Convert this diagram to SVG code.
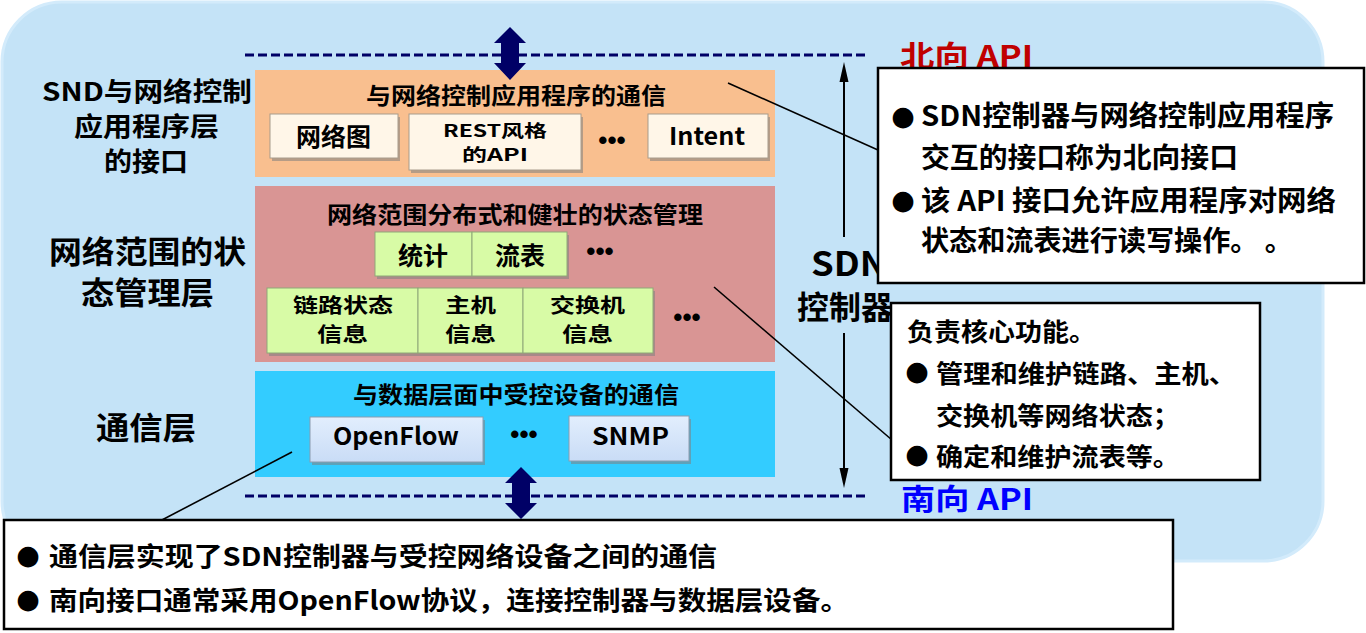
<svg xmlns="http://www.w3.org/2000/svg" width="1366" height="633" viewBox="0 0 1366 633">
<defs>
<style>
.t{font-family:"Noto Sans CJK SC","Noto Sans",sans-serif;font-weight:bold;fill:#000}
.dots{font-family:"Liberation Sans",Arial,sans-serif;font-weight:bold;font-size:26px;fill:#000;text-anchor:middle}
.bul{font-family:"DejaVu Sans",sans-serif;font-size:27px;fill:#000;text-anchor:middle}
.dash{stroke:#000066;stroke-width:3;stroke-dasharray:9 4;fill:none}
.conn{stroke:#000;stroke-width:1.6;fill:none}
.callout{fill:#fff;stroke:#000;stroke-width:2.5}
.shadow{fill:#7f7f7f;opacity:0.55}
.cream{fill:#FFF6E8;stroke:#A89C8C;stroke-width:1}
.green{fill:#D8FBA6;stroke:#8FA878;stroke-width:1}
.lblue{fill:url(#gb);stroke:#8C9CB0;stroke-width:1}
</style>
<linearGradient id="gb" x1="0" y1="0" x2="0" y2="1">
<stop offset="0" stop-color="#E2EEFD"/>
<stop offset="1" stop-color="#C9DCF6"/>
</linearGradient>
</defs>

<g id="background">
<rect x="2" y="2" width="1321" height="559" rx="60" ry="60" fill="#C4E3F7" stroke="#D3EBFB" stroke-width="3"/>
</g>

<g id="layer-labels">
<text class="t" x="42" y="101" font-size="26" textLength="210" lengthAdjust="spacingAndGlyphs">SND与网络控制</text>
<text class="t" x="74" y="136" font-size="26" textLength="145" lengthAdjust="spacingAndGlyphs">应用程序层</text>
<text class="t" x="104" y="171" font-size="26" textLength="84" lengthAdjust="spacingAndGlyphs">的接口</text>
<text class="t" x="49" y="263" font-size="31" textLength="197" lengthAdjust="spacingAndGlyphs">网络范围的状</text>
<text class="t" x="81" y="304" font-size="31" textLength="133" lengthAdjust="spacingAndGlyphs">态管理层</text>
<text class="t" x="96" y="439" font-size="31" textLength="100" lengthAdjust="spacingAndGlyphs">通信层</text>
</g>

<g id="app-layer">
<rect x="255" y="70" width="520" height="107" fill="#F9BF8F"/>
<text class="t" x="366" y="104" font-size="23" textLength="300" lengthAdjust="spacingAndGlyphs">与网络控制应用程序的通信</text>
<g id="node-netgraph">
<rect class="shadow" x="272" y="117" width="128" height="44"/>
<rect class="cream" x="270" y="114" width="128" height="44"/>
<text class="t" x="296" y="146" font-size="25" textLength="75" lengthAdjust="spacingAndGlyphs">网络图</text>
</g>
<g id="node-rest">
<rect class="shadow" x="411" y="117" width="172" height="56"/>
<rect class="cream" x="409" y="114" width="172" height="56"/>
<text class="t" font-size="17"><tspan x="443" y="137" textLength="104" lengthAdjust="spacingAndGlyphs">REST风格</tspan><tspan x="462" y="161" textLength="66" lengthAdjust="spacingAndGlyphs">的API</tspan></text>
</g>
<text class="dots" x="612" y="149">•••</text>
<g id="node-intent">
<rect class="shadow" x="650" y="117" width="120" height="44"/>
<rect class="cream" x="648" y="114" width="120" height="44"/>
<text class="t" x="669" y="145" font-size="24" textLength="76" lengthAdjust="spacingAndGlyphs">Intent</text>
</g>
</g>

<g id="state-layer">
<rect x="255" y="186" width="520" height="176" fill="#D99594"/>
<text class="t" x="327" y="223" font-size="23" textLength="376" lengthAdjust="spacingAndGlyphs">网络范围分布式和健壮的状态管理</text>
<g id="node-stats">
<rect class="shadow" x="377" y="235" width="97" height="44"/>
<rect class="green" x="375" y="232" width="97" height="44"/>
<text class="t" x="398" y="265" font-size="25" textLength="50" lengthAdjust="spacingAndGlyphs">统计</text>
</g>
<g id="node-flowtable">
<rect class="shadow" x="474" y="235" width="95" height="44"/>
<rect class="green" x="472" y="232" width="95" height="44"/>
<text class="t" x="495" y="265" font-size="25" textLength="50" lengthAdjust="spacingAndGlyphs">流表</text>
</g>
<text class="dots" x="600" y="260">•••</text>
<g id="node-linkstate">
<rect class="shadow" x="269" y="291" width="151" height="65"/>
<rect class="green" x="267" y="288" width="151" height="65"/>
<text class="t" font-size="20"><tspan x="293" y="313" textLength="100" lengthAdjust="spacingAndGlyphs">链路状态</tspan><tspan x="317" y="342" textLength="51" lengthAdjust="spacingAndGlyphs">信息</tspan></text>
</g>
<g id="node-host">
<rect class="shadow" x="420" y="291" width="105" height="65"/>
<rect class="green" x="418" y="288" width="105" height="65"/>
<text class="t" font-size="20"><tspan x="445" y="313" textLength="51" lengthAdjust="spacingAndGlyphs">主机</tspan><tspan x="445" y="342" textLength="51" lengthAdjust="spacingAndGlyphs">信息</tspan></text>
</g>
<g id="node-switch">
<rect class="shadow" x="525" y="291" width="130" height="65"/>
<rect class="green" x="523" y="288" width="130" height="65"/>
<text class="t" font-size="20"><tspan x="550" y="313" textLength="75" lengthAdjust="spacingAndGlyphs">交换机</tspan><tspan x="562" y="342" textLength="51" lengthAdjust="spacingAndGlyphs">信息</tspan></text>
</g>
<text class="dots" x="687" y="326">•••</text>
</g>

<g id="comm-layer">
<rect x="255" y="371" width="520" height="106" fill="#33CCFF"/>
<text class="t" x="353" y="403" font-size="23" textLength="326" lengthAdjust="spacingAndGlyphs">与数据层面中受控设备的通信</text>
<g id="node-openflow">
<rect class="shadow" x="312" y="420" width="173" height="45"/>
<rect class="lblue" x="310" y="417" width="173" height="45"/>
<text class="t" x="333" y="445" font-size="24" textLength="126" lengthAdjust="spacingAndGlyphs">OpenFlow</text>
</g>
<text class="dots" x="524" y="443">•••</text>
<g id="node-snmp">
<rect class="shadow" x="571" y="419" width="120" height="45"/>
<rect class="lblue" x="569" y="416" width="120" height="45"/>
<text class="t" x="592" y="445" font-size="24" textLength="77" lengthAdjust="spacingAndGlyphs">SNMP</text>
</g>
</g>

<g id="controller-label">
<text class="t" x="811" y="276" font-size="33" textLength="76" lengthAdjust="spacingAndGlyphs">SDN</text>
<text class="t" x="797" y="319" font-size="32" textLength="96" lengthAdjust="spacingAndGlyphs">控制器</text>
</g>

<g id="api-labels">
<text class="t" x="900" y="67" font-size="29" style="fill:#C00000" textLength="133" lengthAdjust="spacingAndGlyphs">北向 API</text>
<text class="t" x="901" y="510" font-size="29" style="fill:#0000FF" textLength="132" lengthAdjust="spacingAndGlyphs">南向 API</text>
</g>

<g id="connectors">
<line class="dash" x1="245" y1="55" x2="867" y2="55"/>
<line class="dash" x1="245" y1="496" x2="867" y2="496"/>
<polygon fill="#000066" points="510,27 526,43 519,43 519,63 526,63 510,80 494,63 501,63 501,43 494,43"/>
<polygon fill="#000066" points="521,467 537,483 530,483 530,503 537,503 521,519 505,503 512,503 512,483 505,483"/>
<line x1="844" y1="237" x2="844" y2="78" stroke="#000" stroke-width="2"/>
<polygon fill="#000" points="844,62 848.5,82 839.5,82"/>
<line x1="844" y1="333" x2="844" y2="472" stroke="#000" stroke-width="2"/>
<polygon fill="#000" points="844,488 848.5,468 839.5,468"/>
<line class="conn" x1="728" y1="83" x2="878" y2="150"/>
<line class="conn" x1="714" y1="287" x2="892" y2="440"/>
<line class="conn" x1="292" y1="452" x2="160" y2="521"/>
</g>

<g id="callout-north">
<rect class="callout" x="878" y="68" width="486" height="215"/>
<text class="bul" x="903" y="125">●</text>
<text class="t" x="921" y="126" font-size="28" textLength="413" lengthAdjust="spacingAndGlyphs">SDN控制器与网络控制应用程序</text>
<text class="t" x="921" y="168" font-size="28" textLength="317" lengthAdjust="spacingAndGlyphs">交互的接口称为北向接口</text>
<text class="bul" x="903" y="209">●</text>
<text class="t" x="921" y="211" font-size="28" textLength="415" lengthAdjust="spacingAndGlyphs">该 API 接口允许应用程序对网络</text>
<text class="t" x="921" y="251" font-size="28" textLength="372" lengthAdjust="spacingAndGlyphs">状态和流表进行读写操作。 。</text>
</g>

<g id="callout-core">
<rect class="callout" x="891" y="303" width="369" height="177"/>
<text class="t" x="907" y="341" font-size="25" textLength="189" lengthAdjust="spacingAndGlyphs">负责核心功能。</text>
<text class="bul" x="917" y="380" font-size="25">●</text>
<text class="t" x="936" y="383" font-size="25" textLength="300" lengthAdjust="spacingAndGlyphs">管理和维护链路、主机、</text>
<text class="t" x="936" y="425" font-size="25" textLength="244" lengthAdjust="spacingAndGlyphs">交换机等网络状态；</text>
<text class="bul" x="917" y="463" font-size="25">●</text>
<text class="t" x="936" y="466" font-size="25" textLength="244" lengthAdjust="spacingAndGlyphs">确定和维护流表等。</text>
</g>

<g id="callout-south">
<rect class="callout" x="4" y="520" width="1169" height="109"/>
<text class="bul" x="28" y="564" font-size="26">●</text>
<text class="t" x="49" y="566" font-size="26" textLength="668" lengthAdjust="spacingAndGlyphs">通信层实现了SDN控制器与受控网络设备之间的通信</text>
<text class="bul" x="28" y="608" font-size="26">●</text>
<text class="t" x="49" y="610" font-size="26" textLength="800" lengthAdjust="spacingAndGlyphs">南向接口通常采用OpenFlow协议，连接控制器与数据层设备。</text>
</g>
</svg>
